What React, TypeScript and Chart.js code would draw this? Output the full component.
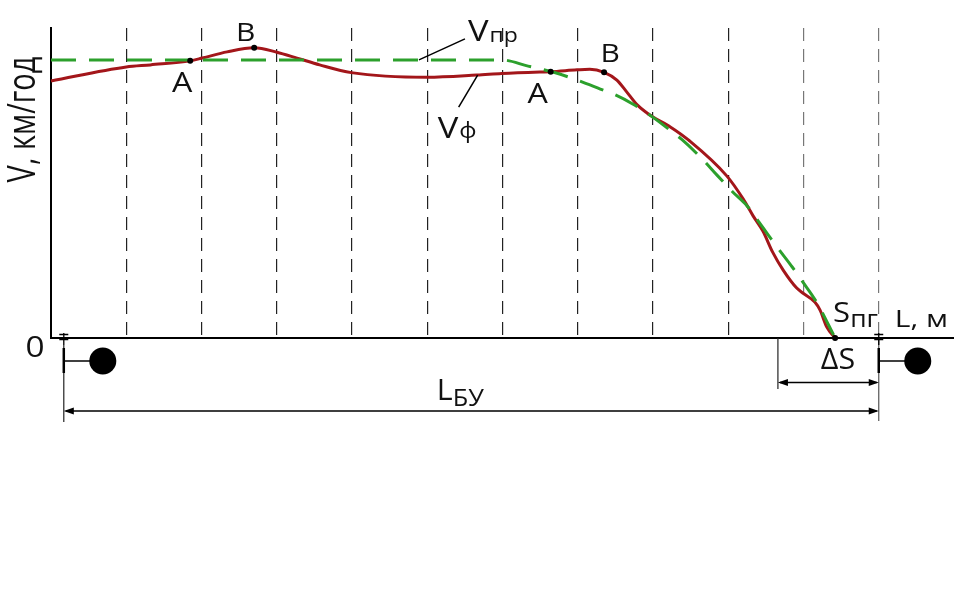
import React, { useEffect, useRef } from "react";
import { Chart, registerables } from "chart.js";

Chart.register(...registerables);

// ---- data (x in grid intervals, V in % of axis height) ----
const gridX = [1, 2, 3, 4, 5, 6, 7, 8, 9, 10, 11];

const actualX = [0, 1.0, 1.32, 1.85, 2.01, 2.34, 2.70, 3.0, 3.27, 3.57, 3.99, 5.0, 5.66, 5.99, 6.5, 6.64, 6.99, 7.16, 7.35, 7.52, 7.65, 7.79, 7.92, 8.0, 8.23, 8.47, 8.98, 9.2, 9.33, 9.46, 9.59, 9.73, 9.91, 9.99, 10.15, 10.22, 10.31, 10.42];
const actualV = [82.9, 87.4, 88.1, 89.4, 90.3, 92.3, 93.6, 92.2, 90.3, 88.1, 85.6, 84.1, 84.8, 85.3, 85.8, 85.9, 86.5, 86.7, 85.7, 83.2, 79.4, 75.2, 72.6, 71.3, 68.1, 63.9, 52.3, 44.8, 39.4, 34.5, 27.7, 21.9, 16.1, 14.5, 11.6, 9.0, 3.5, 0];

const plannedX = [0, 3.0, 5.99, 6.34, 6.67, 6.99, 7.3, 7.5, 7.73, 7.96, 8.17, 8.39, 8.64, 8.86, 9.06, 9.25, 9.38, 9.55, 9.71, 9.85, 9.99, 10.18, 10.42];
const plannedV = [89.7, 89.7, 89.7, 87.7, 85.8, 83.2, 80.3, 78.4, 75.5, 71.9, 68.1, 63.9, 58.1, 52.3, 47.1, 42.6, 38.4, 32.6, 27.4, 22.9, 18.1, 11.3, 0];

const pointX = [1.85, 2.7, 6.64, 7.35];
const pointV = [89.4, 93.6, 85.9, 85.7];
const pointLabels = ["A", "B", "A", "B"];

const stopX = 10.42;
const lbuStart = 0.17;
const lbuEnd = 11;
const dsStart = 9.66;
const vprAnchorX = 4.89;
const vfAnchorX = 5.67;

const FONT = '"Open Sans", "Noto Sans", sans-serif';
const SX = 1.15;

function drawText(ctx: CanvasRenderingContext2D, s: string, x: number, y: number, size: number, align = "left", sx = SX) {
  ctx.save();
  ctx.font = `${size}px ${FONT}`;
  const w = ctx.measureText(s).width * sx;
  let x0 = x;
  if (align === "center") x0 = x - w / 2;
  else if (align === "right") x0 = x - w;
  ctx.translate(x0, y);
  ctx.scale(sx, 1);
  ctx.textAlign = "left";
  ctx.textBaseline = "alphabetic";
  ctx.fillStyle = "#111";
  ctx.fillText(s, 0, 0);
  ctx.restore();
  return w;
}

function arrowHead(ctx: CanvasRenderingContext2D, x: number, y: number, dir: number) {
  ctx.beginPath();
  ctx.moveTo(x, y);
  ctx.lineTo(x - dir * 10, y - 3.5);
  ctx.lineTo(x - dir * 10, y + 3.5);
  ctx.closePath();
  ctx.fill();
}

function vehicle(ctx: CanvasRenderingContext2D, x: number, axisY: number) {
  ctx.lineWidth = 1.3;
  ctx.beginPath();
  ctx.moveTo(x, axisY - 5);
  ctx.lineTo(x, axisY + 7);
  ctx.moveTo(x - 4.5, axisY - 3.5);
  ctx.lineTo(x + 4.5, axisY - 3.5);
  ctx.moveTo(x - 4.5, axisY + 1.5);
  ctx.lineTo(x + 4.5, axisY + 1.5);
  ctx.stroke();
  ctx.lineWidth = 2.5;
  ctx.beginPath();
  ctx.moveTo(x, axisY + 10);
  ctx.lineTo(x, axisY + 35);
  ctx.stroke();
  ctx.lineWidth = 1.5;
  ctx.beginPath();
  ctx.moveTo(x, axisY + 23);
  ctx.lineTo(x + 27, axisY + 23);
  ctx.stroke();
  ctx.beginPath();
  ctx.arc(x + 39, axisY + 23, 13.5, 0, Math.PI * 2);
  ctx.fill();
}

const annotPlugin = {
  id: "annot",
  afterDatasetsDraw(chart: any) {
    const ctx: CanvasRenderingContext2D = chart.ctx;
    const xs = chart.scales.x;
    const ys = chart.scales.y;
    const X = (v: number) => xs.getPixelForValue(v);
    const Y = (v: number) => ys.getPixelForValue(v);
    const { left, right, top, bottom } = chart.chartArea;
    ctx.save();
    ctx.fillStyle = "#000";
    ctx.strokeStyle = "#000";

    // y axis title (rotated)
    ctx.save();
    ctx.translate(left - 16, top + 91.5);
    ctx.scale(1.3, 1);
    ctx.rotate(-Math.PI / 2);
    ctx.font = `29px ${FONT}`;
    ctx.textAlign = "center";
    ctx.textBaseline = "alphabetic";
    ctx.fillStyle = "#111";
    ctx.fillText("V, км/год", 0, 0);
    ctx.restore();

    // A/B labels
    const offs = [[-8, 31, 28], [-8.5, -7, 26], [-13, 31, 28], [6, -10, 26]];
    pointLabels.forEach((s, i) => {
      drawText(ctx, s, X(pointX[i]) + offs[i][0], Y(pointV[i]) + offs[i][1], offs[i][2], "center");
    });

    // V_пр leader + label
    const ax = X(vprAnchorX), ay = Y(plannedV[1]);
    ctx.lineWidth = 1.5;
    ctx.strokeStyle = "#000";
    ctx.beginPath();
    ctx.moveTo(ax, ay);
    ctx.lineTo(ax + 46, ay - 21);
    ctx.stroke();
    let w = drawText(ctx, "V", ax + 49, ay - 19, 30);
    drawText(ctx, "пр", ax + 49 + w + 1, ay - 18, 20);

    // V_ф leader + label
    const bx = X(vfAnchorX), by = Y(84.8);
    ctx.beginPath();
    ctx.moveTo(bx, by);
    ctx.lineTo(bx - 19, by + 32);
    ctx.stroke();
    w = drawText(ctx, "V", bx - 40, by + 63, 30);
    drawText(ctx, "ф", bx - 40 + w + 1, by + 63, 21);

    // S_пг
    const sx = X(stopX);
    w = drawText(ctx, "S", sx - 2, bottom - 16, 27);
    drawText(ctx, "пг", sx - 2 + w, bottom - 11, 23);

    // axis labels
    drawText(ctx, "L, м", right - 6, bottom - 11, 24, "right", 1.25);
    drawText(ctx, "0", left - 16, bottom + 19, 29, "center");

    // extension lines
    const x0 = X(lbuStart), x1 = X(lbuEnd), xd = X(dsStart);
    ctx.lineWidth = 1.2;
    ctx.strokeStyle = "#222";
    ctx.beginPath();
    ctx.moveTo(x0, bottom + 7);
    ctx.lineTo(x0, bottom + 84);
    ctx.stroke();
    ctx.strokeStyle = "#555";
    ctx.beginPath();
    ctx.moveTo(x1, bottom);
    ctx.lineTo(x1, bottom + 83);
    ctx.stroke();
    ctx.strokeStyle = "#222";
    ctx.beginPath();
    ctx.moveTo(xd, bottom);
    ctx.lineTo(xd, bottom + 51);
    ctx.stroke();

    // dimension lines
    const yL = bottom + 73, yD = bottom + 44.5;
    ctx.strokeStyle = "#000";
    ctx.fillStyle = "#000";
    ctx.lineWidth = 1.3;
    ctx.beginPath();
    ctx.moveTo(x0 + 2, yL);
    ctx.lineTo(x1 - 2, yL);
    ctx.moveTo(xd + 2, yD);
    ctx.lineTo(x1 - 2, yD);
    ctx.stroke();
    arrowHead(ctx, x0, yL, -1);
    arrowHead(ctx, x1, yL, 1);
    arrowHead(ctx, xd, yD, -1);
    arrowHead(ctx, x1, yD, 1);

    // dimension texts
    drawText(ctx, "ΔS", x1 - 58, bottom + 31, 29, "left", 1.05);
    w = drawText(ctx, "L", x0 + 373, bottom + 62, 29, "left", 1.05);
    drawText(ctx, "БУ", x0 + 373 + w, bottom + 68, 23, "left", 1.1);

    // vehicles
    ctx.strokeStyle = "#000";
    ctx.fillStyle = "#000";
    vehicle(ctx, x0, bottom);
    vehicle(ctx, x1, bottom);

    ctx.restore();
  },
};

export default function App() {
  const ref = useRef<HTMLCanvasElement | null>(null);
  useEffect(() => {
    if (!ref.current) return;
    const chart = new Chart(ref.current, {
      type: "line",
      data: {
        datasets: [
          {
            type: "scatter",
            data: pointX.map((x, i) => ({ x, y: pointV[i] })).concat([{ x: stopX, y: 0 }]),
            pointRadius: 3,
            pointBackgroundColor: "#000",
            pointBorderColor: "#000",
            pointBorderWidth: 0,
            showLine: false,
            clip: false,
          } as any,
          {
            data: plannedX.map((x, i) => ({ x, y: plannedV[i] })),
            borderColor: "#2ca02c",
            borderWidth: 3,
            borderDash: [25, 13],
            pointRadius: 0,
            cubicInterpolationMode: "monotone",
            fill: false,
            clip: false,
          },
          {
            data: actualX.map((x, i) => ({ x, y: actualV[i] })),
            borderColor: "#a3161a",
            borderWidth: 3,
            pointRadius: 0,
            cubicInterpolationMode: "monotone",
            fill: false,
            clip: false,
          },
        ],
      },
      options: {
        responsive: false,
        animation: false,
        devicePixelRatio: 1,
        layout: { autoPadding: false, padding: { left: 51, right: 0, top: 28, bottom: 253 } },
        plugins: { legend: { display: false }, tooltip: { enabled: false } },
        events: [],
        scales: {
          x: {
            type: "linear",
            min: 0,
            max: 12,
            afterFit: (s: any) => {
              s.height = 0;
            },
            afterBuildTicks: (s: any) => {
              s.ticks = gridX.map((v) => ({ value: v }));
            },
            ticks: { display: false },
            grid: {
              drawTicks: false,
              lineWidth: 1.2,
              color: (c: any) => (c.tick && c.tick.value >= 10 ? "#777" : "#222"),
            },
            border: { display: true, color: "#000", width: 2, dash: [13, 8] },
          },
          y: {
            min: 0,
            max: 100,
            afterFit: (s: any) => {
              s.width = 0;
            },
            ticks: { display: false },
            grid: { display: false, drawTicks: false },
            border: { display: true, color: "#000", width: 2 },
          },
        },
      } as any,
      plugins: [annotPlugin],
    });
    return () => chart.destroy();
  }, []);
  return (
    <div style={{ position: "absolute", left: 0, top: 0, width: 954, height: 591, background: "#fff" }}>
      <canvas ref={ref} width={954} height={591} style={{ width: 954, height: 591, display: "block" }} />
    </div>
  );
}
